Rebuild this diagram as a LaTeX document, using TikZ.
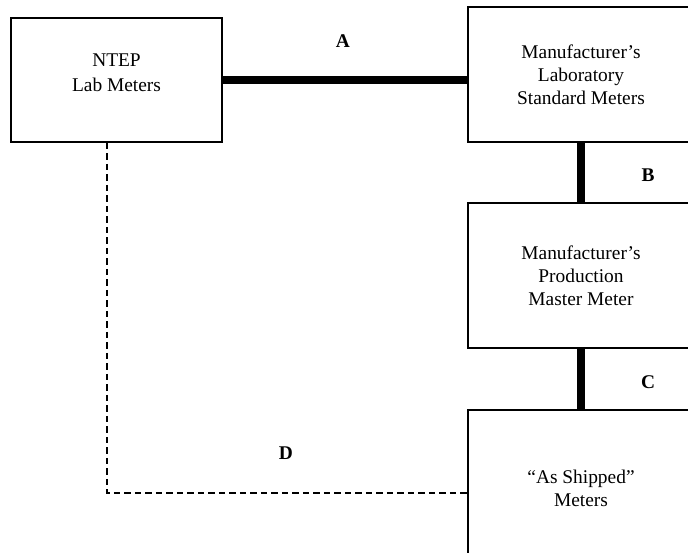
\documentclass[tikz,border=0pt]{standalone}
\usepackage{fontspec}
\setmainfont{Liberation Serif}
\usepackage{tikz}
\usetikzlibrary{positioning, calc}

\begin{document}
\begin{tikzpicture}[
  x=1pt, y=-1pt,
  font=\fontsize{19.4}{23}\selectfont,
  box/.style={draw=black, line width=1.8pt, align=center, inner sep=0pt, fill=white},
  link/.style={line width=7.5pt, draw=black},
  audit/.style={line width=2.3pt, draw=black, dash pattern=on 6.5pt off 4pt},
  tag/.style={font=\fontsize{19.4}{23}\selectfont\bfseries}
]
\useasboundingbox (0,0) rectangle (688,552);
\clip (0,0) rectangle (688,552);
\node[box, minimum width=211pt, minimum height=124pt] (ntep) at (116.5,80) {NTEP\\[2pt]Lab Meters\\[-9pt]};
\node[box, minimum width=226pt, minimum height=135pt] (labstd) at (581,74.5) {Manufacturer’s\\Laboratory\\Standard Meters};
\node[box, minimum width=226pt, minimum height=145pt] (master) at (581,275.5) {Manufacturer’s\\Production\\Master Meter};
\node[box, minimum width=226pt, minimum height=156pt] (shipped) at (581,488) {“As Shipped”\\Meters};

\draw[link] (ntep.east) -- (ntep.east -| labstd.west);
\draw[link] (labstd.south) -- (master.north);
\draw[link] (master.south) -- (shipped.north);
\coordinate (dcorner) at (107,493);
\draw[audit] (ntep.south -| dcorner) -- (dcorner) -- (dcorner -| shipped.west);

\node[tag] (tagA) at (343,41) {A};
\node[tag] (tagB) at (648,175) {B};
\node[tag] (tagC) at (648,382) {C};
\node[tag] (tagD) at (286,453) {D};
\end{tikzpicture}
\end{document}
